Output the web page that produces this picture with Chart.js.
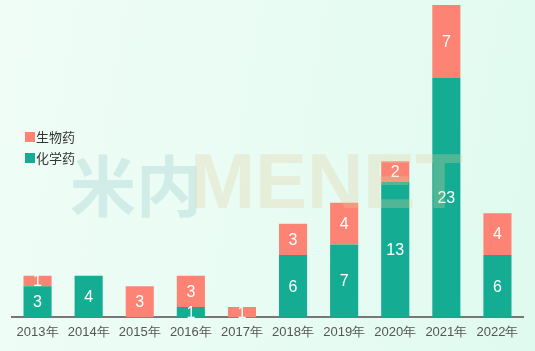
<!DOCTYPE html>
<html>
<head>
<meta charset="utf-8">
<script src="https://cdn.jsdelivr.net/npm/chart.js@4"></script>
<style>
  html, body { margin: 0; padding: 0; }
  body {
    width: 535px; height: 351px; overflow: hidden;
    background: linear-gradient(100deg, #effdf6 0%, #e9fcf3 50%, #dffaef 100%);
  }
  #wrap { position: relative; width: 535px; height: 351px; }
</style>
</head>
<body>
<div id="wrap"><canvas id="drugChart" width="535" height="351"></canvas></div>
<script>
const years = ['2013年', '2014年', '2015年', '2016年', '2017年', '2018年', '2019年', '2020年', '2021年', '2022年'];
const chemical = [3, 4, 0, 1, 0, 6, 7, 13, 23, 6];
const biological = [1, 0, 3, 3, 1, 3, 4, 2, 7, 4];

const teal = '#14ad93';
const salmon = '#fd8474';

// numbers inside each segment
const barLabels = {
  id: 'barLabels',
  afterDatasetsDraw(chart) {
    const ctx = chart.ctx;
    ctx.save();
    ctx.fillStyle = '#ffffff';
    ctx.font = '16px "Liberation Sans", Arial, sans-serif';
    ctx.textAlign = 'center';
    ctx.textBaseline = 'middle';
    chart.data.datasets.forEach((ds, i) => {
      chart.getDatasetMeta(i).data.forEach((bar, j) => {
        if (!ds.data[j]) return;
        const p = bar.getProps(['x', 'y', 'base'], true);
        ctx.fillText(ds.data[j], p.x, (p.y + p.base) / 2 + 1);
      });
    });
    ctx.restore();
  }
};

// watermark + legend drawn on top
const overlay = {
  id: 'overlay',
  afterDraw(chart) {
    const ctx = chart.ctx;
    ctx.save();
    ctx.textBaseline = 'alphabetic';
    ctx.font = 'bold 66px "Noto Sans CJK SC", sans-serif';
    ctx.fillStyle = 'rgba(160, 205, 205, 0.35)';
    ctx.fillText('米内', 70, 211);
    ctx.font = 'bold 78px "Liberation Sans", Arial, sans-serif';
    ctx.fillStyle = 'rgba(225, 205, 160, 0.3)';
    ctx.fillText('MENET', 190, 208);

    const items = [['生物药', salmon], ['化学药', teal]];
    ctx.font = '13px "Noto Sans CJK SC", sans-serif';
    ctx.textBaseline = 'middle';
    items.forEach((it, k) => {
      const y = 137 + k * 21;
      ctx.fillStyle = it[1];
      ctx.fillRect(25, y - 5, 10, 10);
      ctx.fillStyle = '#333';
      ctx.fillText(it[0], 36, y);
    });
    ctx.restore();
  }
};

new Chart(document.getElementById('drugChart'), {
  type: 'bar',
  data: {
    labels: years,
    datasets: [
      { label: '化学药', data: chemical, backgroundColor: teal },
      { label: '生物药', data: biological, backgroundColor: salmon }
    ]
  },
  options: {
    responsive: false,
    animation: false,
    layout: { padding: { left: 12, right: 12, top: 5, bottom: 4 } },
    datasets: { bar: { barPercentage: 0.55, categoryPercentage: 1 } },
    scales: {
      x: {
        stacked: true,
        grid: { display: false, drawTicks: false },
        border: { color: '#777', width: 2 },
        ticks: { color: '#555', font: { size: 13, family: '"Liberation Sans", Arial, sans-serif' }, padding: 7 }
      },
      y: {
        stacked: true,
        min: 0,
        max: 30,
        display: false
      }
    },
    plugins: {
      legend: { display: false },
      tooltip: { enabled: false }
    }
  },
  plugins: [barLabels, overlay]
});
</script>
</body>
</html>
